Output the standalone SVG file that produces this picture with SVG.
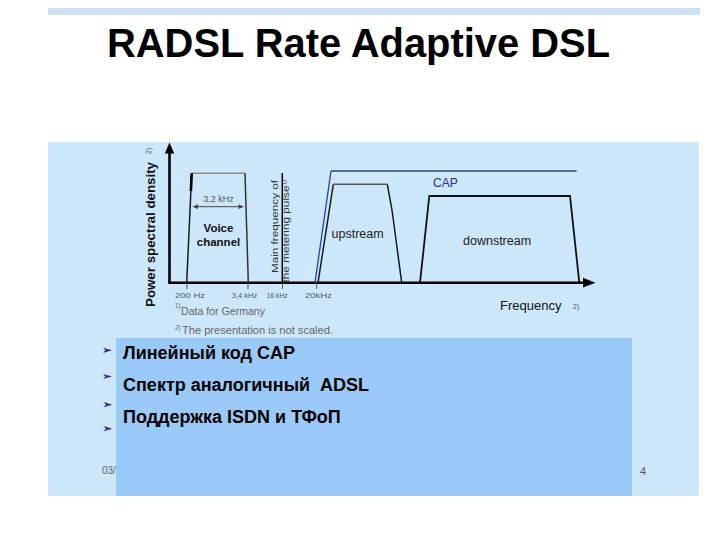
<svg xmlns="http://www.w3.org/2000/svg" width="720" height="540" viewBox="0 0 720 540">
<defs>
<style>
text{font-family:"Liberation Sans",Arial,sans-serif}
.title{font-size:40px;font-weight:bold;fill:#000}
.ax{stroke:#000;stroke-width:2.6;fill:none}
.edge{stroke:#1a1a1a;stroke-width:1.5;fill:none}
.tick{stroke:#555;stroke-width:1;fill:none}
.small{font-size:8px;fill:#555}
.note{font-size:10.5px;fill:#666}
.lbl{font-size:12.5px;fill:#222}
.bl{font-size:18px;font-weight:bold;fill:#000}
</style>
<path id="bul" d="M0,-2.6 L9,0 L0,2.6 L2.4,0 Z" fill="#3b2d8c"/>
</defs>
<rect width="720" height="540" fill="#ffffff"/>
<rect x="48" y="8" width="652" height="7" fill="#cfe3f4"/>
<text class="title" x="107" y="57" textLength="503" lengthAdjust="spacingAndGlyphs">RADSL Rate Adaptive DSL</text>
<rect id="panel" x="48" y="142" width="651" height="354" fill="#cce7f9"/>

<g id="connectors">
<line class="ax" x1="169.5" y1="283" x2="169.5" y2="151"/>
<polygon points="164.8,153.5 169.5,142.5 174.2,153.5" fill="#000"/>
<line class="ax" x1="168.2" y1="282.7" x2="585" y2="282.7"/>
<polygon points="583,277.8 595.5,282.7 583,287.6" fill="#000"/>
<line class="tick" x1="187" y1="282" x2="187" y2="289"/>
<line class="tick" x1="248" y1="282" x2="248" y2="289"/>
<line class="tick" x1="282.5" y1="282" x2="282.5" y2="289"/>
<line class="tick" x1="316.7" y1="282" x2="316.7" y2="289"/>
</g>

<g id="voice">
<line x1="191.7" y1="173.3" x2="245" y2="173.3" stroke="#8a8a8a" stroke-width="1.6"/>
<line class="edge" x1="186.7" y1="282.7" x2="191.7" y2="173.3"/>
<line x1="191.7" y1="173.3" x2="190.9" y2="191" stroke="#000" stroke-width="2.6"/>
<line x1="245" y1="173.3" x2="248.3" y2="282.7" stroke="#333" stroke-width="1.5"/>
<line x1="196" y1="206.7" x2="240.5" y2="206.7" stroke="#444" stroke-width="1"/>
<polygon points="192.5,206.7 198,204.3 198,209.1" fill="#444"/>
<polygon points="244,206.7 238.5,204.3 238.5,209.1" fill="#444"/>
<text x="218.5" y="202" font-size="9" fill="#555" text-anchor="middle">3,2 kHz</text>
<text x="218.5" y="232" font-size="11.5" font-weight="bold" fill="#111" text-anchor="middle">Voice</text>
<text x="218.5" y="245.5" font-size="11.5" font-weight="bold" fill="#111" text-anchor="middle">channel</text>
</g>

<g id="metering">
<line x1="282.3" y1="173" x2="282.3" y2="283" stroke="#000" stroke-width="1.5"/>
<text font-size="9" fill="#333" transform="translate(278,273) rotate(-90)" textLength="93" lengthAdjust="spacingAndGlyphs">Main frequency of</text>
<text font-size="9" fill="#333" transform="translate(289,282.5) rotate(-90)" textLength="97" lengthAdjust="spacingAndGlyphs">the metering pulse</text>
<text font-size="6" fill="#333" transform="translate(285.5,185) rotate(-90)">1)</text>
</g>

<g id="cap">
<line x1="315" y1="282.7" x2="331" y2="171" stroke="#2a3fa8" stroke-width="1.3"/>
<line x1="331" y1="171" x2="576.7" y2="171" stroke="#34466e" stroke-width="1.3"/>
<text x="433" y="187" font-size="12" fill="#2a2aa0">CAP</text>
</g>

<g id="upstream">
<polyline class="edge" points="318,282.7 333.3,184.3"/>
<line x1="333.3" y1="184.3" x2="387.3" y2="184.3" stroke="#555" stroke-width="1.4"/>
<polyline class="edge" points="387.3,184.3 392,210 401.7,282.7"/>
<text class="lbl" x="331.5" y="238.3">upstream</text>
</g>

<g id="downstream">
<polyline points="420,282.7 429.3,196 570,196 579.3,282.7" stroke="#111" stroke-width="1.8" fill="none"/>
<text class="lbl" x="463" y="244.5">downstream</text>
</g>

<g id="axis-labels">
<text font-size="13.3" font-weight="bold" fill="#111" transform="translate(154.5,307) rotate(-90)" textLength="145" lengthAdjust="spacingAndGlyphs">Power spectral density</text>
<text font-size="7" fill="#555" transform="translate(151,154) rotate(-90)">2)</text>
<text x="500" y="309.5" font-size="13" fill="#111">Frequency</text>
<text x="573" y="309" font-size="7" fill="#555">2)</text>
<text class="small" x="175" y="298" textLength="30" lengthAdjust="spacingAndGlyphs">200 Hz</text>
<text class="small" x="231.7" y="298" textLength="25.6" lengthAdjust="spacingAndGlyphs">3,4 kHz</text>
<text class="small" x="266.7" y="298" textLength="21" lengthAdjust="spacingAndGlyphs">16 kHz</text>
<text class="small" x="305" y="298" textLength="26.7" lengthAdjust="spacingAndGlyphs">20kHz</text>
</g>

<g id="notes">
<text x="175" y="308" font-size="6.5" fill="#666">1)</text>
<text class="note" x="181" y="315" textLength="84" lengthAdjust="spacingAndGlyphs">Data for Germany</text>
<text x="175" y="330" font-size="6.5" fill="#666">2)</text>
<text class="note" x="182" y="334.3" textLength="151" lengthAdjust="spacingAndGlyphs">The presentation is not scaled.</text>
</g>

<g id="footer">
<text x="102" y="474" font-size="10" fill="#666">03/</text>
<text x="640" y="475" font-size="11" fill="#555">4</text>
</g>

<g id="bullets">
<use href="#bul" x="103" y="350.3"/>
<use href="#bul" x="103" y="376.5"/>
<use href="#bul" x="103.5" y="404.7"/>
<use href="#bul" x="103.5" y="428.7"/>
</g>

<g id="textbox">
<rect x="116" y="338" width="516" height="158" fill="#9acbf8"/>
<text class="bl" x="123" y="359">Линейный код CAP</text>
<text class="bl" x="123" y="391" xml:space="preserve">Спектр аналогичный  ADSL</text>
<text class="bl" x="123" y="423">Поддержка ISDN и ТФоП</text>
</g>
</svg>
